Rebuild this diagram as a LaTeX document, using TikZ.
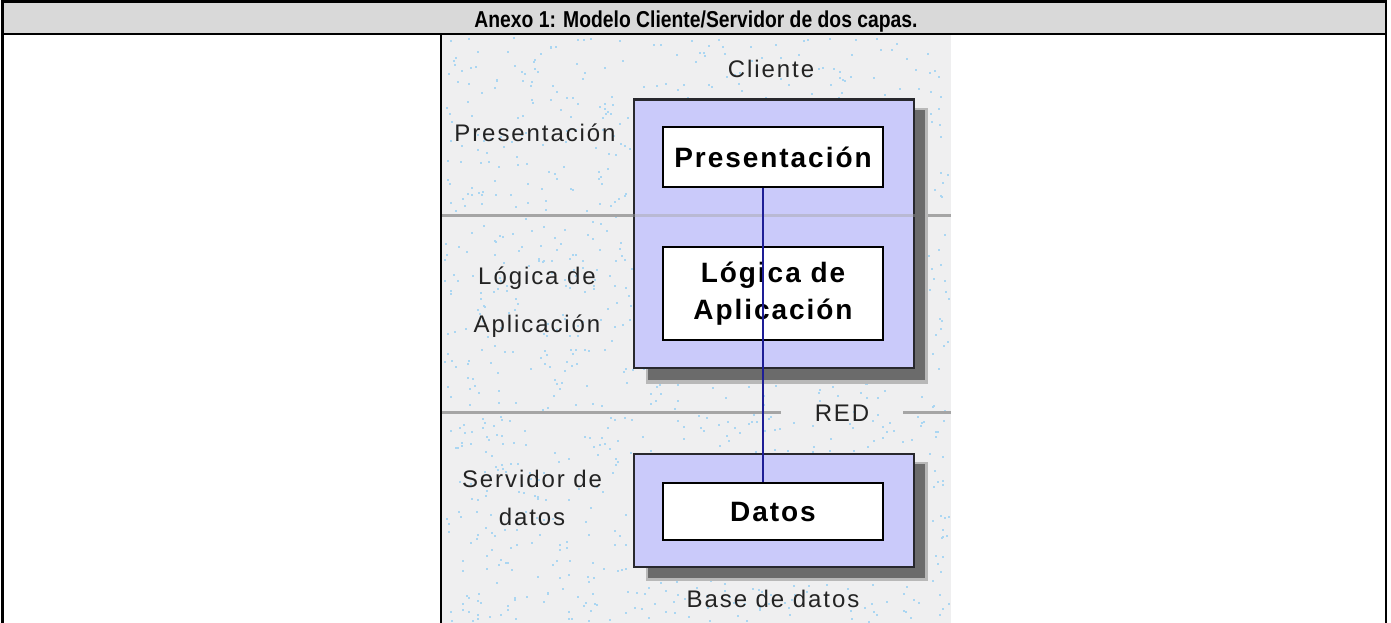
\documentclass[tikz,border=0pt]{standalone}
\usepackage{fontspec}
\usepackage{graphicx}
\setmainfont{Liberation Sans}
\newfontfamily\lblfont[LetterSpace=8]{Liberation Sans}
\newfontfamily\boxfont[LetterSpace=7]{Liberation Sans}
\usetikzlibrary{calc}
\definecolor{hdrgray}{RGB}{217,217,217}
\definecolor{imgbg}{RGB}{239,239,240}
\definecolor{speck}{RGB}{170,214,242}
\definecolor{lav}{RGB}{202,202,250}
\definecolor{boxline}{RGB}{40,40,45}
\definecolor{sepline}{RGB}{165,165,165}
\definecolor{netblue}{RGB}{30,30,150}
\definecolor{lbltext}{RGB}{35,35,35}
\begin{document}
\begin{tikzpicture}[x=1pt,y=-1pt,
  outerbox/.style={draw=boxline, line width=2.5pt, fill=lav, inner sep=0pt},
  innerbox/.style={draw=black, line width=2pt, fill=white, inner sep=0pt,
    font=\boxfont\bfseries\fontsize{28}{37}\selectfont, align=center},
  lbl/.style={text=lbltext, inner sep=0pt, anchor=base, align=center},
  sep/.style={draw=sepline, line width=3pt},
  tbl/.style={draw=black, line width=2.5pt},
  shadowdark/.style={fill=black!58},
  shadowsoft/.style={fill=black!28}
]
\useasboundingbox (0,0) rectangle (1391,623);
% header row
\fill[hdrgray] (2,2) rectangle (1386,34);
\node[font=\bfseries\fontsize{23}{28}\selectfont, anchor=base, inner sep=0pt] (title) at (696,28)
  {\scalebox{0.84}[1]{Anexo 1: Modelo Cliente/Servidor de dos capas.}};
% picture background
\fill[imgbg] (441,34) rectangle (951,623);
\pgfmathsetseed{42}
\foreach \k in {1,...,1300}{
  \pgfmathsetmacro{\sx}{443+505*rnd}
  \pgfmathsetmacro{\sy}{36+585*rnd}
  \fill[speck] (\sx,\sy) rectangle ++(2,2);
}
% separator lines
\coordinate (s1a) at (442,215.5);
\coordinate (s1b) at (951,215.5);
\coordinate (s2a) at (442,412);
\coordinate (s2b) at (781,412);
\coordinate (s2c) at (903,412);
\coordinate (s2d) at (951,412);
\draw[sep] (s1a) -- (s1b);
\draw[sep] (s2a) -- (s2b);
\draw[sep] (s2c) -- (s2d);
% shadows
\fill[shadowsoft] (646,108) rectangle (928,384);
\fill[shadowdark] (648,110) rectangle (925,380);
\fill[shadowsoft] (646,462) rectangle (928,581);
\fill[shadowdark] (648,464) rectangle (925,578);
% outer boxes
\node[outerbox, minimum width=280, minimum height=268.5] (cli) at (774,233.75) {};
\node[outerbox, minimum width=280, minimum height=113] (srv) at (774,510.5) {};
\draw[sep, opacity=.45] (cli.west |- s1a) -- (cli.east |- s1a);
% inner boxes
\node[innerbox, minimum width=220, minimum height=60] (pres) at (773,157) {Presentación};
\node[innerbox, minimum width=220, minimum height=93.5] (logi) at (773,293.25) {Lógica de\\Aplicación};
\node[innerbox, minimum width=220, minimum height=57] (datos) at (773,511.5) {Datos};
% network link
\draw[netblue, line width=2pt] ([xshift=-10pt]pres.south) -- ([xshift=-10pt]datos.north);
% labels
\node[lbl, font=\lblfont\fontsize{24}{30}\selectfont] (lcli) at (771,78) {Cliente};
\node[lbl, font=\lblfont\fontsize{24}{30}\selectfont] (lpres) at (535,142) {Presentación};
\node[lbl, font=\lblfont\fontsize{24}{48}\selectfont] (llog) at (537,332) {Lógica de\\Aplicación};
\node[lbl, font=\lblfont\fontsize{24}{30}\selectfont] (lred) at (842,421) {RED};
\node[lbl, font=\lblfont\fontsize{24}{38}\selectfont] (lsrv) at (532,525) {Servidor de\\datos};
\node[lbl, font=\lblfont\fontsize{24}{30}\selectfont] (lbd) at (773,607) {Base de datos};
% table rules
\draw[tbl] (2.5,623) -- (2.5,1.5) -- (1386,1.5) -- (1386,623);
\draw[draw=black, line width=2pt] (2.5,33.7) -- (1386,33.7);
\draw[draw=black, line width=2pt] (441,33.7) -- (441,623);
\end{tikzpicture}
\end{document}
